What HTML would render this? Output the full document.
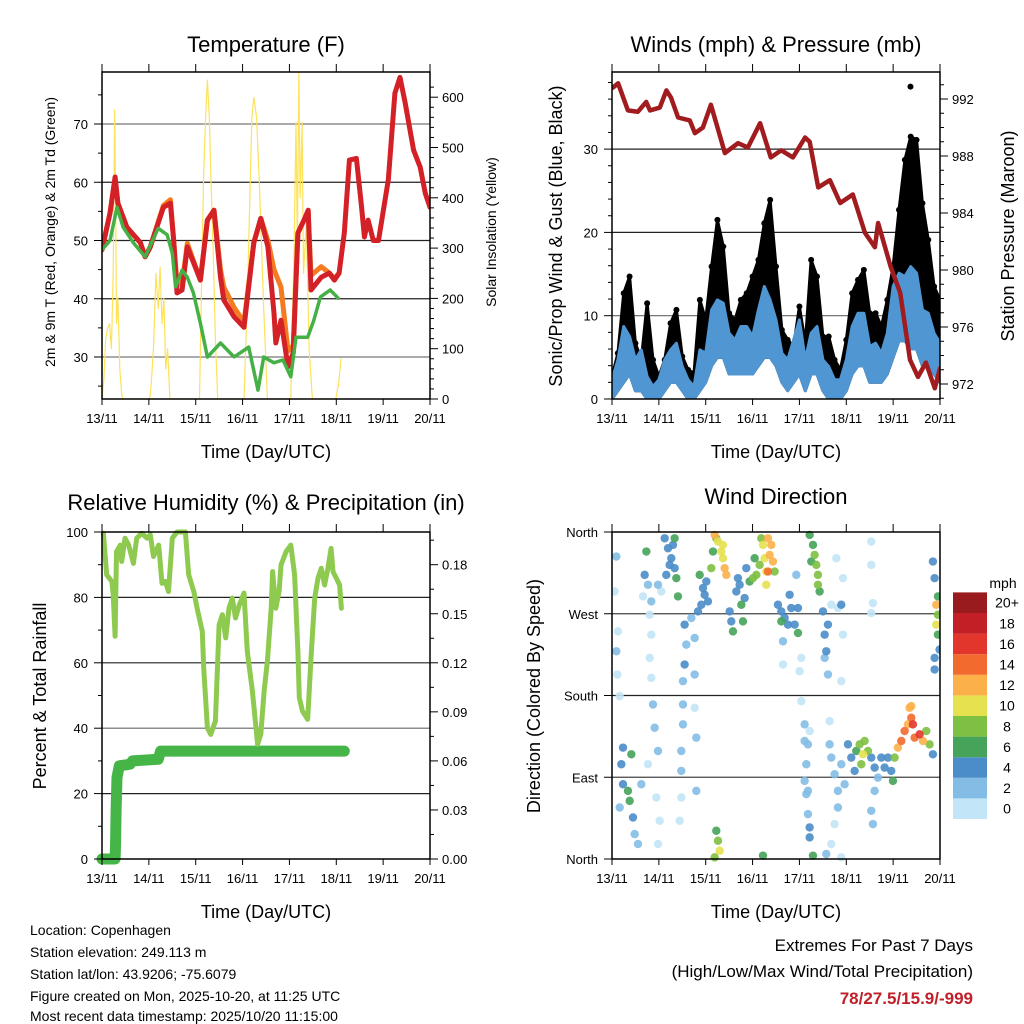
<!DOCTYPE html>
<html><head><meta charset="utf-8"><style>
html,body{margin:0;padding:0;background:#fff;}
svg{display:block;font-family:"Liberation Sans",Arial,sans-serif;}
</style></head><body>
<svg id="c" width="1024" height="1024" viewBox="0 0 1024 1024" xmlns="http://www.w3.org/2000/svg"></svg>
<script>
// ---------- DATA ----------
const dayLabels = ["13/11","14/11","15/11","16/11","17/11","18/11","19/11","20/11"];
// Temperature (F)
const redT = [0,.17,.28,.34,.53,.82,.92,1.03,1.31,1.46,1.53,1.6,1.71,1.82,2.1,2.25,2.39,2.53,2.6,2.82,3.03,3.24,3.39,3.54,3.67,3.71,3.82,3.97,4.08,4.18,4.31,4.4,4.46,4.68,4.85,4.96,5.06,5.17,5.28,5.43,5.54,5.6,5.68,5.79,5.9,6.11,6.25,6.36,6.47,6.65,6.79,6.9,7.0];
const redV = [48.4,54.7,60.9,56.4,52.3,49.6,47.2,48.9,55.7,56.4,50,41,41.5,48.9,43.2,53.5,55.2,43.7,39.8,36.9,35.1,49.6,53.8,48.9,37.5,32.4,36.3,28.3,30.7,51.3,53.5,55.2,41.5,43.7,44.4,43.2,44.4,51.3,63.8,64.1,55.7,50.6,53.5,50,50,60.4,75.3,78,73.6,65.5,62.6,58.1,55.7];
const orangeT = [0,.17,.28,.34,.53,.82,.92,1.03,1.31,1.46,1.53,1.6,1.71,1.82,2.1,2.25,2.39,2.53,2.6,2.82,3.03,3.24,3.39,3.54,3.67,3.82,3.97,4.08,4.18,4.31,4.4,4.46,4.68,4.85,4.96,5.06];
const orangeV = [48.4,54.7,60.5,56.4,52.3,49.6,47.2,48.9,56,57,50,42.5,42.5,49.5,43.2,53.5,55.2,45,42,38.5,36,49.6,53.8,50,45,42,31,32,51.3,53.5,55,44,45.5,44.4,43.5,44.4];
const dewT = [0,.17,.32,.45,.67,.92,1.2,1.39,1.5,1.57,1.71,1.82,1.95,2.1,2.25,2.53,2.82,3.13,3.33,3.45,3.67,3.86,4.03,4.14,4.39,4.52,4.66,4.87,5.04];
const dewV = [48.4,50,55.7,52.3,49.6,47.2,52.1,51,47.8,42,44.9,43.7,41,35.8,30,32.4,30,31.7,24.3,30,29,29.5,26.6,33.4,33.4,36.3,40.3,41.5,40.1];
const solarT = [0,.04,.08,.12,.16,.2,.24,.27,.29,.31,.34,.38,.42,.44,1.02,1.05,1.1,1.15,1.2,1.24,1.28,1.32,1.36,1.4,1.45,2.08,2.12,2.17,2.21,2.25,2.29,2.33,2.37,2.42,2.47,3.03,3.1,3.16,3.2,3.24,3.3,3.37,3.45,3.53,4.03,4.1,4.14,4.17,4.2,4.23,4.27,4.3,4.36,4.42,4.49,4.99,5.05,5.1];
const solarV = [0,40,120,140,150,100,250,575,400,150,200,60,10,0,0,30,100,250,180,262,150,200,60,100,0,0,200,450,560,634,560,420,300,120,0,0,200,420,560,600,560,400,180,0,0,300,550,300,650,400,550,250,350,100,0,0,30,80];
// Winds (3-hourly, t = i*0.125 day)
const gustV = [2.7,5.5,12.7,14.7,6.7,4.7,11.5,4.7,2.7,4.7,9.1,10.7,5.1,3.5,3.1,11.9,9.5,15.9,21.5,18.3,10.3,9.5,11.9,12.7,14.7,16.7,21.1,23.9,15.9,8.3,7.1,6.3,11.1,6.7,16.7,14.7,7.5,7.5,4.7,3.5,7.1,12.7,14.3,15.5,10.3,10.3,8.7,11.9,15.9,22.7,28.7,31.5,31.1,23.5,19.1,13.5,11.9];
const windHighV = [2.3,4.7,8.7,7.5,4.7,5.9,2.7,1.5,2.3,4.7,5.9,6.7,3.9,2.3,1.5,5.9,5.5,10.7,11.9,11.5,7.9,7.1,8.7,8.7,7.5,10.7,13.5,11.9,9.5,5.5,4.7,7.1,9.5,4.7,7.9,8.7,4.7,3.9,2.3,2.3,4.7,8.7,10.3,10.3,6.3,6.7,5.5,7.9,13.5,15.1,14.7,15.9,15.1,10.7,10.3,7.9,6.7];
const windLowV = [0,1,2,3,1,1,0,0,0,1,2,2,1,0,0,1,2,4,5,5,3,3,3,3,3,4,5,5,4,2,1,2,3,1,3,3,1,0,0,0,1,3,4,4,2,2,2,3,5,7,7,6,6,4,4,3,2];
const presT = [.02,.13,.34,.55,.73,.81,1.02,1.16,1.26,1.41,1.66,1.77,1.94,2.11,2.41,2.69,2.9,3.16,3.39,3.61,3.86,4.12,4.22,4.4,4.65,4.87,5.14,5.4,5.61,5.68,5.95,6.15,6.36,6.53,6.7,6.89,7.0];
const presV = [992.8,993.1,991.2,991.1,991.8,991.2,991.4,992.6,992.1,990.7,990.5,989.6,990,991.6,988.2,988.9,988.6,990.3,987.9,988.4,987.9,989.3,989,985.8,986.3,984.7,985.3,982.6,981.6,983.3,980.2,978.4,973.7,972.5,973.5,971.7,973.1];
// Humidity / precipitation
const rhT = [.03,.10,.21,.24,.28,.31,.39,.42,.49,.57,.67,.74,.85,.96,1.03,1.10,1.21,1.28,1.35,1.42,1.50,1.60,1.78,1.85,1.96,2.03,2.14,2.17,2.25,2.32,2.42,2.50,2.57,2.64,2.71,2.78,2.85,2.93,3.03,3.10,3.21,3.32,3.39,3.46,3.53,3.61,3.64,3.71,3.78,3.82,3.93,4.03,4.11,4.18,4.21,4.28,4.39,4.46,4.54,4.61,4.68,4.75,4.82,4.89,4.93,5.00,5.07,5.11];
const rhV = [99.6,86.9,84.9,80.8,68.1,94,96,91,98.1,96,90.4,98.1,99.6,98.1,99.1,92.5,96,84.3,84.9,81.8,98.1,100,100,86.9,81.8,76.7,69.6,58.4,40.1,38.1,42.2,71.6,74.7,67.6,76.7,79.8,73.7,77.7,81.3,63.5,51.3,35.1,38.1,51.3,60.5,76.7,87.9,76.7,81.8,89.9,94,96,86.9,63.5,49.3,45.2,42.7,61.5,79.8,85.9,88.9,83.8,88.9,95,87.9,85.9,83.8,76.7];
const precipT = [0,.28,.29,.30,.32,.37,.6,.65,1.2,1.25,5.17];
const precipV = [0,0,.01,.03,.05,.057,.058,.06,.061,.066,.066];
// Wind direction scatter: time (day), direction (deg, 0=N bottom), speed (mph)
const dirT = [];
const dirD = [];
const dirS = [];
(function(){
 const raw = [[25,95,2],[20,200,1],[30,320,1],[25,380,2],[28,450,1],[35,515,0],
 [45,670,4],[40,720,4],[45,780,4],[60,800,7],[65,830,6],[70,690,7],[75,880,4],[80,930,3],[90,960,3],[100,780,3],[35,850,2],
 [115,80,6],[110,150,4],[120,180,2],[130,230,3],[105,215,1],[125,270,1],[130,330,1],[125,400,1],[130,460,1],[135,540,3],[140,610,2],[150,680,3],[145,820,1],[155,890,1],[150,960,1],[120,720,1],
 [170,40,4],[180,70,4],[190,100,4],[200,130,4],[205,160,6],[185,120,4],[195,60,4],[210,215,6],[175,150,4],[160,200,1],[150,180,2],[200,40,6],
 [230,300,4],[235,360,3],[230,420,4],[225,470,2],[225,540,3],[225,600,2],[220,680,2],[220,740,3],[220,820,1],[215,890,1],[260,450,2],[250,280,2],[260,340,2],[265,640,2],[260,550,1],[265,800,2],
 [275,150,6],[285,190,4],[290,210,4],[280,240,4],[295,170,4],[300,230,4],[270,260,4],
 [320,30,12],[330,50,10],[340,80,10],[345,100,11],[350,130,12],[355,150,12],[315,80,6],[325,40,9],[310,130,8],[345,60,11],
 [325,920,7],[330,950,8],[335,980,10],[320,1000,9],
 [365,260,4],[370,290,4],[375,320,6],[385,200,4],[395,180,4],[400,240,6],[405,290,6],[410,220,4],[415,130,4],[390,160,4],
 [425,170,7],[435,160,8],[445,150,8],[440,100,7],[455,120,8],[465,60,10],[460,40,8],[470,100,10],[475,140,11],[480,140,15],[485,90,12],[490,60,12],[495,110,12],[475,180,10],[500,140,8],[480,40,12],
 [465,995,7],
 [510,240,4],[520,260,4],[530,280,4],[540,300,4],[550,250,4],[560,300,4],[520,290,6],[570,325,7],[545,210,4],[570,250,4],[525,350,2],[525,420,1],[580,400,1],[575,440,1],[580,530,1],[565,150,2],
 [590,600,2],[590,650,2],[595,720,2],[590,770,2],[595,810,2],[600,870,3],[605,910,4],[605,940,4],[600,800,3],[600,660,3],[605,620,1],
 [605,30,6],[615,60,7],[620,90,8],[625,120,9],[630,150,8],[630,180,8],[635,200,7],[610,110,6],[615,995,7],
 [650,330,4],[655,380,4],[650,400,3],[660,300,4],[645,260,4],[660,450,3],[670,240,1],[690,250,1],[700,240,4],[705,330,1],[700,470,1],[685,100,1],[705,160,1],[665,590,1],[665,660,2],
 [670,700,3],[680,750,2],[690,800,2],[700,720,3],[710,780,2],[720,660,4],[730,700,4],[740,740,4],[745,680,6],[755,660,8],[765,690,10],[770,650,8],[780,680,8],[760,720,9],[790,700,4],[800,730,4],[810,760,3],[820,700,4],[830,730,4],[840,700,5],[850,740,4],[855,770,6],[860,700,8],[800,800,2],[795,900,2],[790,860,2],[690,850,2],[680,900,1],[670,960,1],[700,1000,1],[655,990,2],
 [870,670,12],[880,650,14],[890,620,14],[900,600,13],[910,580,15],[915,600,17],[905,550,12],[920,640,14],[935,630,16],[945,650,12],[955,620,8],[965,660,8],[975,690,5],[910,545,13],
 [975,110,4],[980,160,4],[985,240,12],[990,270,8],[985,300,10],[990,330,7],[990,215,6],[980,400,4],[980,435,4],[995,375,4],[790,50,1],[790,120,1],[795,235,1],[790,265,1]];
 raw.forEach(r=>{dirT.push(+((r[0]-12)/140.6).toFixed(3));dirD.push(+((1005-r[1])/2.733).toFixed(1));dirS.push(r[2]);});
})();
const speedColors = ["#c2e6f7","#83bde6","#4a8dc8","#45a35a","#7ec043","#e6e14e","#fbb04a","#f26a2e","#e2352b","#c21f27","#991b1e"];
const legendLabels = ["0","2","4","6","8","10","12","14","16","18","20+"];

// ---------- DRAWING ----------
const NS="http://www.w3.org/2000/svg";
const svg=document.getElementById('c');
function mk(tag,parent){const e=document.createElementNS(NS,tag);(parent||svg).appendChild(e);return e;}
function txt(s,x,y,size,anchor,name,rot,fill,weight){
 const t=mk('text');t.textContent=s;t.setAttribute('x',x);t.setAttribute('y',y);
 t.setAttribute('font-size',size);t.setAttribute('text-anchor',anchor||'middle');
 if(fill)t.setAttribute('fill',fill);if(weight)t.setAttribute('font-weight',weight);
 if(rot)t.setAttribute('transform','rotate(-90 '+x+' '+y+')');
 
 
 return t;}
function line(x1,y1,x2,y2,stroke,w,name){const l=mk('line');l.setAttribute('x1',x1);l.setAttribute('y1',y1);l.setAttribute('x2',x2);l.setAttribute('y2',y2);l.setAttribute('stroke',stroke);l.setAttribute('stroke-width',w);
 
 return l;}
function poly(pts,stroke,w,name,fill){const p=mk('polyline');p.setAttribute('points',pts.map(q=>q[0].toFixed(1)+','+q[1].toFixed(1)).join(' '));p.setAttribute('fill',fill||'none');p.setAttribute('stroke',stroke);p.setAttribute('stroke-width',w);p.setAttribute('stroke-linejoin','round');p.setAttribute('stroke-linecap','round');
 
 return p;}

function panel(L,T,R,B,name){
 const g={L,T,R,B,x:t=>L+t*(R-L)/7};
 return g;}
function frame(g,name,xlabY,xtitleY){
 const r=mk('rect');r.setAttribute('x',g.L);r.setAttribute('y',g.T);r.setAttribute('width',g.R-g.L);r.setAttribute('height',g.B-g.T);r.setAttribute('fill','none');r.setAttribute('stroke','#000');r.setAttribute('stroke-width',1.5);
 
 
 for(let d=0;d<=7;d++){const x=g.x(d);
  line(x,g.B,x,g.B+6,'#000',1,name+'-x-tick');
  line(x,g.T,x,g.T-8,'#000',1,name+'-top-tick');
  txt(dayLabels[d],x,xlabY,13,'middle',name+'-x-tick-label');}
 txt('Time (Day/UTC)',(g.L+g.R)/2,xtitleY,18,'middle',name+'-x-axis-title');
}
function hgrid(g,y,name,color){line(g.L,y,g.R,y,color||'#333',1.2,name);}
function leftTicks(g,vals,yf,name,minor,fmt){
 vals.forEach(v=>{const y=yf(v);line(g.L-8,y,g.L,y,'#000',1,name+'-tick');txt(fmt?fmt(v):String(v),g.L-14,y+5,13,'end',name+'-tick-label');});
 (minor||[]).forEach(v=>{const y=yf(v);line(g.L-4,y,g.L,y,'#000',1,name+'-minor-tick');});}
function rightTicks(g,vals,yf,name,minor,fmt){
 vals.forEach(v=>{const y=yf(v);line(g.R,y,g.R+8,y,'#000',1,name+'-tick');txt(fmt?fmt(v):String(v),g.R+12,y+5,13,'start',name+'-tick-label');});
 (minor||[]).forEach(v=>{const y=yf(v);line(g.R,y,g.R+4,y,'#000',1,name+'-minor-tick');});}
function range(a,b,s){const o=[];for(let v=a;v<=b+1e-9;v+=s)o.push(+v.toFixed(4));return o;}

// ===== Panel 1: Temperature =====
const p1=panel(102,72,430,399);
const yT=v=>357-(v-30)*5.825;
const yS=v=>399-v*0.503;
txt('Temperature (F)',266,52,22,'middle','temperature-title');
[30,40,50,60,70].forEach(v=>hgrid(p1,yT(v),'temp-gridline',(v==30||v==70)?'#777':'#222'));
const cp1=mk('clipPath');cp1.setAttribute('id','cp1');const cr1=mk('rect',cp1);cr1.setAttribute('x',p1.L);cr1.setAttribute('y',p1.T);cr1.setAttribute('width',p1.R-p1.L);cr1.setAttribute('height',p1.B-p1.T);
const g1=mk('g');g1.setAttribute('clip-path','url(#cp1)');


const sol=poly(solarT.map((t,i)=>[p1.x(t),yS(solarV[i])]),'#fde25a',1.2,'solar-insolation-line');g1.appendChild(sol);
const org=poly(orangeT.map((t,i)=>[p1.x(t),yT(orangeV[i])]),'#f47b20',5,'temp-9m-line');g1.appendChild(org);
const red=poly(redT.map((t,i)=>[p1.x(t),yT(redV[i])]),'#d42027',5,'temp-2m-line');g1.appendChild(red);
const dew=poly(dewT.map((t,i)=>[p1.x(t),yT(dewV[i])]),'#44b045',3.5,'dewpoint-2m-line');dew.setAttribute('stroke-dasharray','3 1');g1.appendChild(dew);
frame(p1,'temperature',423,458);
leftTicks(p1,[30,40,50,60,70],yT,'temp-left',[25,35,45,55,65,75]);
rightTicks(p1,[0,100,200,300,400,500,600],yS,'solar-right',range(20,620,20).filter(v=>v%100));
txt('2m & 9m T (Red, Orange) & 2m Td (Green)',55,232,14,'middle','temp-y-axis-title',true);
txt('Solar Insolation (Yellow)',496,232,14,'middle','solar-y-axis-title',true);

// ===== Panel 2: Winds =====
const p2=panel(612,72,940,399);
const yW=v=>399-v*8.33;
const yP=v=>384-(v-972)*14.25;
txt('Winds (mph) & Pressure (mb)',776,52,22,'middle','winds-title');
[10,20,30].forEach(v=>hgrid(p2,yW(v),'wind-gridline',v==10?'#666':'#222'));
const cp2=mk('clipPath');cp2.setAttribute('id','cp2');const cr2=mk('rect',cp2);cr2.setAttribute('x',p2.L);cr2.setAttribute('y',p2.T);cr2.setAttribute('width',p2.R-p2.L);cr2.setAttribute('height',p2.B-p2.T);
const g2=mk('g');g2.setAttribute('clip-path','url(#cp2)');


const wt=i=>i*0.125;
const gustBand=gustV.map((v,i)=>[p2.x(wt(i)),yW(v)]).concat(windLowV.map((v,i)=>[p2.x(wt(i)),yW(v)]).reverse());
const gb=poly(gustBand,'#000',3,'gust-band','#000');g2.appendChild(gb);
gustV.forEach((v,i)=>{const c=mk('circle',g2);c.setAttribute('cx',p2.x(wt(i)));c.setAttribute('cy',yW(v));c.setAttribute('r',3);c.setAttribute('fill','#000');
 
 });
const blueBand=windHighV.map((v,i)=>[p2.x(wt(i)),yW(v)]).concat(windLowV.map((v,i)=>[p2.x(wt(i)),yW(v)]).reverse());
const bb=poly(blueBand,'#4f96d2',3,'wind-speed-band','#4f96d2');g2.appendChild(bb);
const pr=poly(presT.map((t,i)=>[p2.x(t),yP(presV[i])]),'#a11c1f',4.5,'station-pressure-line');g2.appendChild(pr);
const oc=mk('circle',g2);oc.setAttribute('cx',p2.x(6.37));oc.setAttribute('cy',yW(37.5));oc.setAttribute('r',3);oc.setAttribute('fill','#000');


frame(p2,'winds',423,458);
leftTicks(p2,[0,10,20,30],yW,'wind-left',range(2,38,2).filter(v=>v%10));
rightTicks(p2,[972,976,980,984,988,992],yP,'pressure-right',range(971,993,1).filter(v=>v%4));
txt('Sonic/Prop Wind & Gust (Blue, Black)',562,236,18,'middle','wind-y-axis-title',true);
txt('Station Pressure (Maroon)',1014,236,18,'middle','pressure-y-axis-title',true);

// ===== Panel 3: Humidity =====
const p3=panel(102,532,430,859);
const yR=v=>859-v*3.27;
const yPr=v=>859-v*5*3.27*100;
txt('Relative Humidity (%) & Precipitation (in)',266,510,22,'middle','humidity-title');
[20,40,60,80].forEach(v=>hgrid(p3,yR(v),'rh-gridline',v==40?'#666':'#222'));
poly(precipT.map((t,i)=>[p3.x(t),yPr(precipV[i])]),'#45b547',11,'precipitation-line');
poly(rhT.map((t,i)=>[p3.x(t),yR(rhV[i])]),'#8fca50',5,'relative-humidity-line');
frame(p3,'humidity',883,918);
leftTicks(p3,[0,20,40,60,80,100],yR,'rh-left',[10,30,50,70,90]);
rightTicks(p3,[0,.03,.06,.09,.12,.15,.18],yPr,'precip-right',[.015,.045,.075,.105,.135,.165,.195],v=>v.toFixed(2));
txt('Percent & Total Rainfall',46,696,18,'middle','rh-y-axis-title',true);

// ===== Panel 4: Wind direction =====
const p4=panel(612,532,940,859);
const yD=v=>859-v/360*327;
txt('Wind Direction',776,504,22,'middle','wind-direction-title');
[90,180,270].forEach(v=>hgrid(p4,yD(v),'dir-gridline',v==180?'#222':'#444'));
const cp4=mk('clipPath');cp4.setAttribute('id','cp4');const cr4=mk('rect',cp4);cr4.setAttribute('x',p4.L);cr4.setAttribute('y',p4.T-4);cr4.setAttribute('width',p4.R-p4.L);cr4.setAttribute('height',p4.B-p4.T+8);
const g4=mk('g');g4.setAttribute('clip-path','url(#cp4)');


const order=dirS.map((s,i)=>i).sort((a,b)=>dirS[a]-dirS[b]);
order.forEach(i=>{const c=mk('circle',g4);c.setAttribute('cx',p4.x(dirT[i]));c.setAttribute('cy',yD(dirD[i]));c.setAttribute('r',4.2);
 c.setAttribute('fill',speedColors[Math.min(10,Math.floor(dirS[i]/2))]);c.setAttribute('fill-opacity','0.9');
 
 });
frame(p4,'wind-direction',883,918);
const dirNames=['North','East','South','West','North'];
[0,90,180,270,360].forEach((v,k)=>{const y=yD(v);line(p4.L-8,y,p4.L,y,'#000',1,'dir-tick');txt(dirNames[k],p4.L-14,y+5,13,'end','dir-tick-label');});
txt('Direction (Colored By Speed)',540,696,18,'middle','dir-y-axis-title',true);
// legend
txt('mph',1003,588,14,'middle','legend-title');
const lbH=20.6;
for(let k=0;k<11;k++){const y=819-(k+1)*lbH;const r=mk('rect');r.setAttribute('x',953);r.setAttribute('y',y);r.setAttribute('width',34);r.setAttribute('height',lbH);r.setAttribute('fill',speedColors[k]);
 
 
 txt(legendLabels[k],1007,y+lbH/2+5,14,'middle','legend-label');}

// ===== Footer =====
const info=["Location: Copenhagen","Station elevation: 249.113 m","Station lat/lon: 43.9206; -75.6079","Figure created on Mon, 2025-10-20, at 11:25 UTC","Most recent data timestamp: 2025/10/20 11:15:00"];
[935,957,979,1001,1021].forEach((y,k)=>txt(info[k],30,y,14,'start','station-info-line'));
txt('Extremes For Past 7 Days',973,951,17,'end','extremes-heading');
txt('(High/Low/Max Wind/Total Precipitation)',973,977,17,'end','extremes-subheading');
txt('78/27.5/15.9/-999',973,1004,17,'end','extremes-values','', '#c0202a','bold');
</script>
</body></html>
